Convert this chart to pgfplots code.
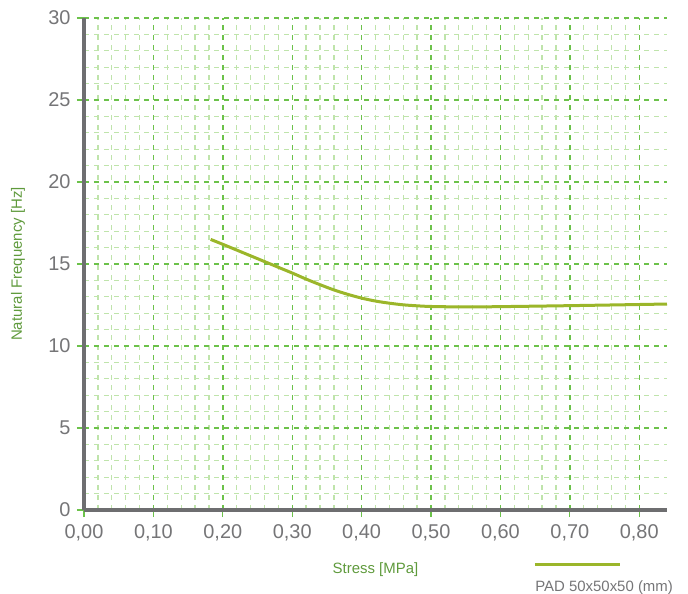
\documentclass[border=0pt]{standalone}
\usepackage{pgfplots}
\pgfplotsset{compat=1.18}
\usepackage{fontspec}
\setmainfont{Liberation Sans}
\definecolor{curve}{HTML}{9BB62A}
\definecolor{majgrid}{HTML}{6CC24A}
\definecolor{mingrid}{HTML}{BFE4AB}
\definecolor{axisgray}{HTML}{6E6E70}
\definecolor{ticklab}{HTML}{757577}
\definecolor{labgreen}{HTML}{5F9A3C}
\begin{document}
\begin{tikzpicture}
\begin{axis}[
  scale only axis, width=583bp, height=492bp,
  xmin=0, xmax=0.84, ymin=0, ymax=30,
  xtick={0,0.1,0.2,0.3,0.4,0.5,0.6,0.7,0.8},
  xticklabels={{0,00},{0,10},{0,20},{0,30},{0,40},{0,50},{0,60},{0,70},{0,80}},
  ytick={0,5,10,15,20,25,30},
  minor x tick num=4, minor y tick num=4,
  grid=both,
  every axis grid/.style={},
  major grid style={draw=majgrid, dash pattern=on 5bp off 5bp, line width=1.4bp},
  minor grid style={draw=mingrid, dash pattern=on 5bp off 5bp, line width=1.3bp},
  axis x line*=bottom, axis y line*=left,
  axis line style={axisgray, line width=3.5bp, -},
  tick align=outside, major tick length=7bp, minor tick length=0pt,
  tick style={draw=majgrid, line width=1.2bp},
  /pgf/number format/assume math mode=true,
  ticklabel style={font=\fontsize{20}{24}\selectfont, text=ticklab},
  xticklabel style={yshift=-4bp},
  yticklabel style={xshift=-3bp},
  xlabel={Stress [MPa]}, ylabel={Natural Frequency [Hz]},
  label style={font=\fontsize{15}{18}\selectfont, text=labgreen},
  xlabel style={at={(axis description cs:0.5,-0.122)}, anchor=center},
  ylabel style={at={(axis description cs:-0.113,0.5)}, anchor=center},
  legend style={at={(axis description cs:0.7686,-0.156)}, anchor=west,
    draw=none, fill=none, inner sep=0pt, font=\fontsize{15}{18}\selectfont,
    text=ticklab, nodes={inner sep=0pt}},
  legend cell align=left,
  legend image code/.code={\path (0,0); \draw[#1,overlay,line width=3bp] (1bp,22bp) -- (86bp,22bp);},
  clip=false
]
\addplot[curve, line width=3bp, smooth] coordinates {
(0.1825,16.5) (0.20,16.2) (0.22,15.85) (0.24,15.5) (0.26,15.15)
(0.28,14.8) (0.30,14.45) (0.32,14.08) (0.34,13.74) (0.36,13.42)
(0.38,13.15) (0.40,12.92) (0.42,12.74) (0.44,12.61) (0.46,12.51)
(0.48,12.45) (0.50,12.41) (0.55,12.38) (0.60,12.40) (0.70,12.46)
(0.80,12.53) (0.84,12.56)
};
\addlegendentry{PAD 50x50x50 (mm)}
\coordinate (o) at (rel axis cs:0,0);
\end{axis}
\path (o) ++(-84bp,-84bp) rectangle ++(688bp,594bp);
\end{tikzpicture}
\end{document}
